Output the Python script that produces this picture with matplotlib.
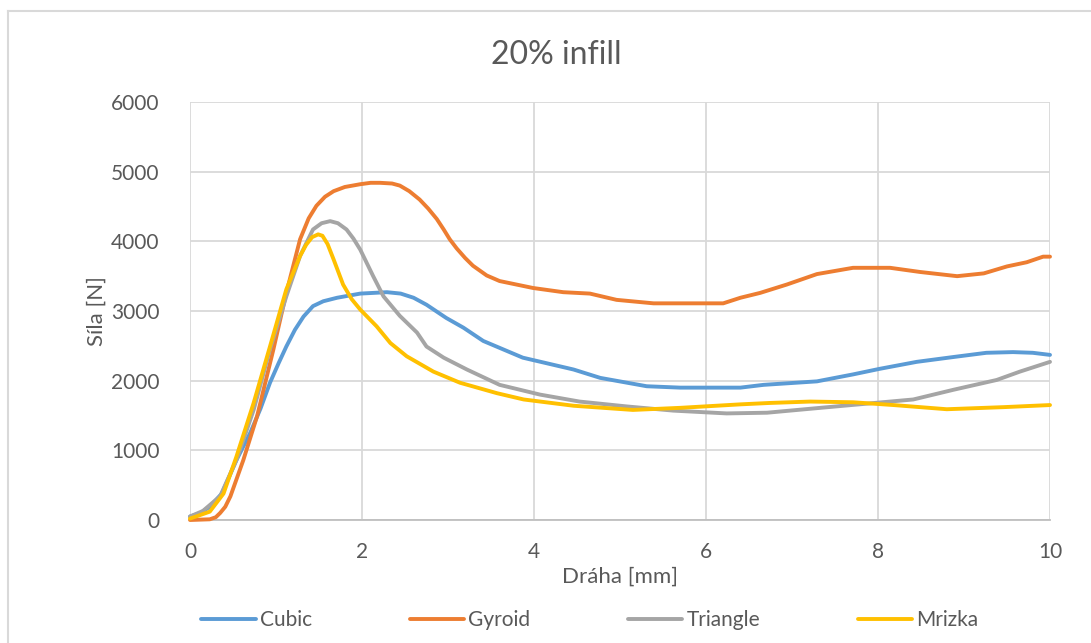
import numpy as np
import matplotlib.pyplot as plt
from matplotlib.lines import Line2D

plt.rcParams['font.family'] = ['Lato', 'DejaVu Sans']

# data (x = Dráha [mm], y = Síla [N])
cubic_x = [0, 0.12, 0.23, 0.37, 0.54, 0.70, 0.82, 0.93, 1.03, 1.12, 1.22, 1.32, 1.43, 1.55, 1.71,
           1.98, 2.29, 2.45, 2.60, 2.75, 2.98, 3.18, 3.41, 3.87, 4.46, 4.77, 5.31, 5.70, 6.40,
           6.67, 7.29, 7.71, 8.02, 8.45, 8.88, 9.26, 9.57, 9.80, 10.0]
cubic_y = [50, 100, 190, 380, 860, 1250, 1600, 1970, 2250, 2490, 2730, 2920, 3070, 3140, 3190,
           3250, 3270, 3250, 3190, 3090, 2900, 2760, 2570, 2330, 2160, 2040, 1920, 1900, 1900,
           1940, 1990, 2090, 2170, 2270, 2340, 2400, 2410, 2400, 2370]

gyroid_x = [0, 0.23, 0.30, 0.35, 0.41, 0.47, 0.62, 0.78, 0.97, 1.12, 1.28, 1.38, 1.47, 1.57,
            1.67, 1.80, 1.98, 2.10, 2.21, 2.35, 2.44, 2.55, 2.67, 2.77, 2.87, 2.95, 3.02, 3.10,
            3.20, 3.29, 3.45, 3.60, 3.99, 4.34, 4.65, 4.96, 5.39, 6.20, 6.40, 6.63, 6.94, 7.29,
            7.71, 8.14, 8.49, 8.92, 9.23, 9.50, 9.73, 9.92, 10.0]
gyroid_y = [0, 10, 40, 100, 190, 340, 860, 1490, 2450, 3260, 4030, 4330, 4510, 4640,
            4720, 4780, 4820, 4840, 4840, 4830, 4800, 4720, 4600, 4470, 4320, 4170, 4030, 3900,
            3760, 3650, 3510, 3430, 3330, 3270, 3250, 3160, 3110, 3110, 3190, 3260, 3380, 3530,
            3620, 3620, 3560, 3500, 3540, 3640, 3700, 3780, 3780]

triangle_x = [0, 0.15, 0.35, 0.54, 0.74, 0.93, 1.12, 1.28, 1.43, 1.53, 1.63, 1.72, 1.82, 1.90,
              1.98, 2.13, 2.25, 2.44, 2.64, 2.75, 2.95, 3.22, 3.60, 4.07, 4.53, 5.08, 5.62,
              6.24, 6.71, 7.33, 7.87, 8.41, 8.88, 9.38, 9.65, 10.0]
triangle_y = [50, 130, 340, 860, 1580, 2450, 3210, 3790, 4170, 4260, 4290, 4260, 4170, 4040,
              3880, 3500, 3210, 2930, 2690, 2490, 2330, 2160, 1940, 1800, 1700, 1630, 1570,
              1530, 1540, 1610, 1670, 1730, 1870, 2010, 2130, 2270]

mrizka_x = [0, 0.23, 0.39, 0.54, 0.74, 0.93, 1.12, 1.28, 1.35, 1.42, 1.49, 1.54, 1.60, 1.67,
            1.78, 1.88, 1.98, 2.17, 2.33, 2.52, 2.83, 3.14, 3.57, 3.88, 4.46, 5.15, 5.70, 6.40,
            6.74, 7.21, 7.71, 8.18, 8.80, 9.46, 10.0]
mrizka_y = [20, 120, 380, 910, 1680, 2490, 3310, 3790, 3950, 4060, 4100, 4080, 3960, 3740,
            3380, 3170, 3020, 2780, 2540, 2350, 2130, 1970, 1820, 1730, 1640, 1580, 1610, 1660,
            1680, 1700, 1690, 1650, 1590, 1620, 1650]

names = ['Cubic', 'Gyroid', 'Triangle', 'Mrizka']
colors = ['#5B9BD5', '#ED7D31', '#A5A5A5', '#FFC000']
x_ticks = [0, 2, 4, 6, 8, 10]
y_ticks = [0, 1000, 2000, 3000, 4000, 5000, 6000]

txt = '#595959'
grid = '#D9D9D9'

fig = plt.figure(figsize=(10.91, 6.43), dpi=100)
ax = fig.add_axes([190/1091, 1 - 520/643, 860/1091, 418/643])

series = [(cubic_x, cubic_y), (gyroid_x, gyroid_y), (triangle_x, triangle_y), (mrizka_x, mrizka_y)]
for (sx, sy), name, c in zip(series, names, colors):
    ax.plot(sx, sy, color=c, lw=2.8, label=name, solid_joinstyle='round', solid_capstyle='round',
            clip_on=False, zorder=3)

ax.set_xlim(0, 10)
ax.set_ylim(0, 6000)
ax.set_xticks(x_ticks)
ax.set_yticks(y_ticks)
ax.grid(True, color=grid, lw=1.3)
ax.set_axisbelow(True)
for s in ['top', 'right', 'left']:
    ax.spines[s].set_visible(False)
ax.spines['bottom'].set_color('#BFBFBF')
ax.spines['bottom'].set_linewidth(1.3)
ax.tick_params(length=0, labelsize=15, labelcolor=txt)
ax.tick_params(axis='x', pad=16)
ax.tick_params(axis='y', pad=22)

# title is centred on the whole chart, not on the plot area
fig.text(556/1091, 1 - 55/643, '20% infill', fontsize=23, color=txt, ha='center', va='center')
ax.set_xlabel('Dráha [mm]', fontsize=16, color=txt, labelpad=3)
ax.set_ylabel('Síla [N]', fontsize=16, color=txt, labelpad=3)

ax.legend(loc='center', bbox_to_anchor=(590/1091, 1 - 620/643), bbox_transform=fig.transFigure,
          ncol=4, frameon=False, fontsize=15, handlelength=2.6, handletextpad=0.2,
          columnspacing=4.7, labelcolor=txt)

# chart area border
fig.add_artist(Line2D([8/1091, 8/1091], [0, 1 - 11/643], color=grid, lw=1.5, transform=fig.transFigure))
fig.add_artist(Line2D([8/1091, 1], [1 - 11/643, 1 - 11/643], color=grid, lw=1.5, transform=fig.transFigure))

plt.savefig('out.png', dpi=100)
